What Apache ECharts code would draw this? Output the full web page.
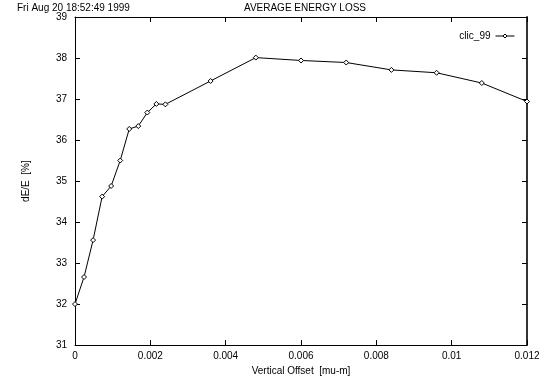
<!DOCTYPE html>
<html>
<head>
<meta charset="utf-8">
<script src="https://cdn.jsdelivr.net/npm/echarts@6/dist/echarts.min.js"></script>
<style>
  html, body { margin: 0; padding: 0; background: #fff; }
  #chart { width: 544px; height: 381px; }
</style>
</head>
<body>
<div id="chart"></div>
<script>
const offsets = [0, 0.00024, 0.00048, 0.00072, 0.00096, 0.0012, 0.00144, 0.00168, 0.00192, 0.00216, 0.0024,
  0.0036, 0.0048, 0.006, 0.0072, 0.0084, 0.0096, 0.0108, 0.012];
const energyLoss = [32.0, 32.66, 33.56, 34.62, 34.88, 35.50, 36.27, 36.34, 36.67, 36.88, 36.87,
  37.44, 38.01, 37.94, 37.89, 37.71, 37.64, 37.39, 36.94];
const xTicks = [0, 0.002, 0.004, 0.006, 0.008, 0.01, 0.012];
const yTicks = [31, 32, 33, 34, 35, 36, 37, 38, 39];

const font = 'Liberation Sans, Arial, sans-serif';
const chart = echarts.init(document.getElementById('chart'));

const tickStyle = { show: true, inside: true, length: 5, lineStyle: { color: '#000', width: 1 } };

chart.setOption({
  animation: false,
  textStyle: { fontFamily: font },
  title: [
    { text: 'Fri Aug 20 18:52:49 1999', left: 12, top: -2,
      textStyle: { fontSize: 10, fontWeight: 'normal', color: '#000', fontFamily: font } },
    { text: 'AVERAGE ENERGY LOSS', left: 300, top: -2, textAlign: 'center',
      textStyle: { fontSize: 10, fontWeight: 'normal', color: '#000', fontFamily: font } }
  ],
  legend: {
    right: 24, top: 26, align: 'right', itemWidth: 19, itemHeight: 5, itemGap: 7,
    lineStyle: { width: 1 },
    itemStyle: { color: '#fff', borderColor: '#000', borderWidth: 1 },
    textStyle: { fontSize: 10, color: '#000', fontFamily: font },
    data: ['clic_99']
  },
  grid: { left: 75, right: 17, top: 17, bottom: 35 },
  xAxis: [
    {
      type: 'value', min: 0, max: 0.012, interval: 0.002, position: 'bottom',
      name: 'Vertical Offset  [mu-m]', nameLocation: 'middle', nameGap: 14,
      nameTextStyle: { fontSize: 10, color: '#000', fontFamily: font },
      axisLine: { show: true, onZero: false, lineStyle: { color: '#000', width: 1 } },
      axisTick: tickStyle,
      splitLine: { show: false },
      axisLabel: { fontSize: 10, color: '#000', margin: 6, fontFamily: font,
        formatter: v => xTicks.includes(+v.toFixed(3)) ? String(+v.toFixed(3)) : '' }
    },
    {
      type: 'value', min: 0, max: 0.012, interval: 0.002, position: 'top',
      axisLine: { show: true, onZero: false, lineStyle: { color: '#000', width: 1 } },
      axisTick: tickStyle, axisLabel: { show: false }, splitLine: { show: false }
    }
  ],
  yAxis: [
    {
      type: 'value', min: 31, max: 39, interval: 1, position: 'left',
      name: 'dE/E  [%]', nameLocation: 'middle', nameGap: 44, nameRotate: 90,
      nameTextStyle: { fontSize: 10, color: '#000', fontFamily: font },
      axisLine: { show: true, onZero: false, lineStyle: { color: '#000', width: 1 } },
      axisTick: tickStyle,
      splitLine: { show: false },
      axisLabel: { fontSize: 10, color: '#000', margin: 8, fontFamily: font,
        formatter: v => yTicks.includes(v) ? String(v) : '' }
    },
    {
      type: 'value', min: 31, max: 39, interval: 1, position: 'right',
      axisLine: { show: true, onZero: false, lineStyle: { color: '#333', width: 2 } },
      axisTick: tickStyle, axisLabel: { show: false }, splitLine: { show: false }
    }
  ],
  series: [{
    name: 'clic_99',
    type: 'line',
    data: offsets.map((x, i) => [x, energyLoss[i]]),
    symbol: 'diamond',
    symbolSize: 5,
    showAllSymbol: true,
    clip: false,
    lineStyle: { color: '#000', width: 1 },
    itemStyle: { color: '#fff', borderColor: '#000', borderWidth: 1 }
  }]
});
</script>
</body>
</html>
